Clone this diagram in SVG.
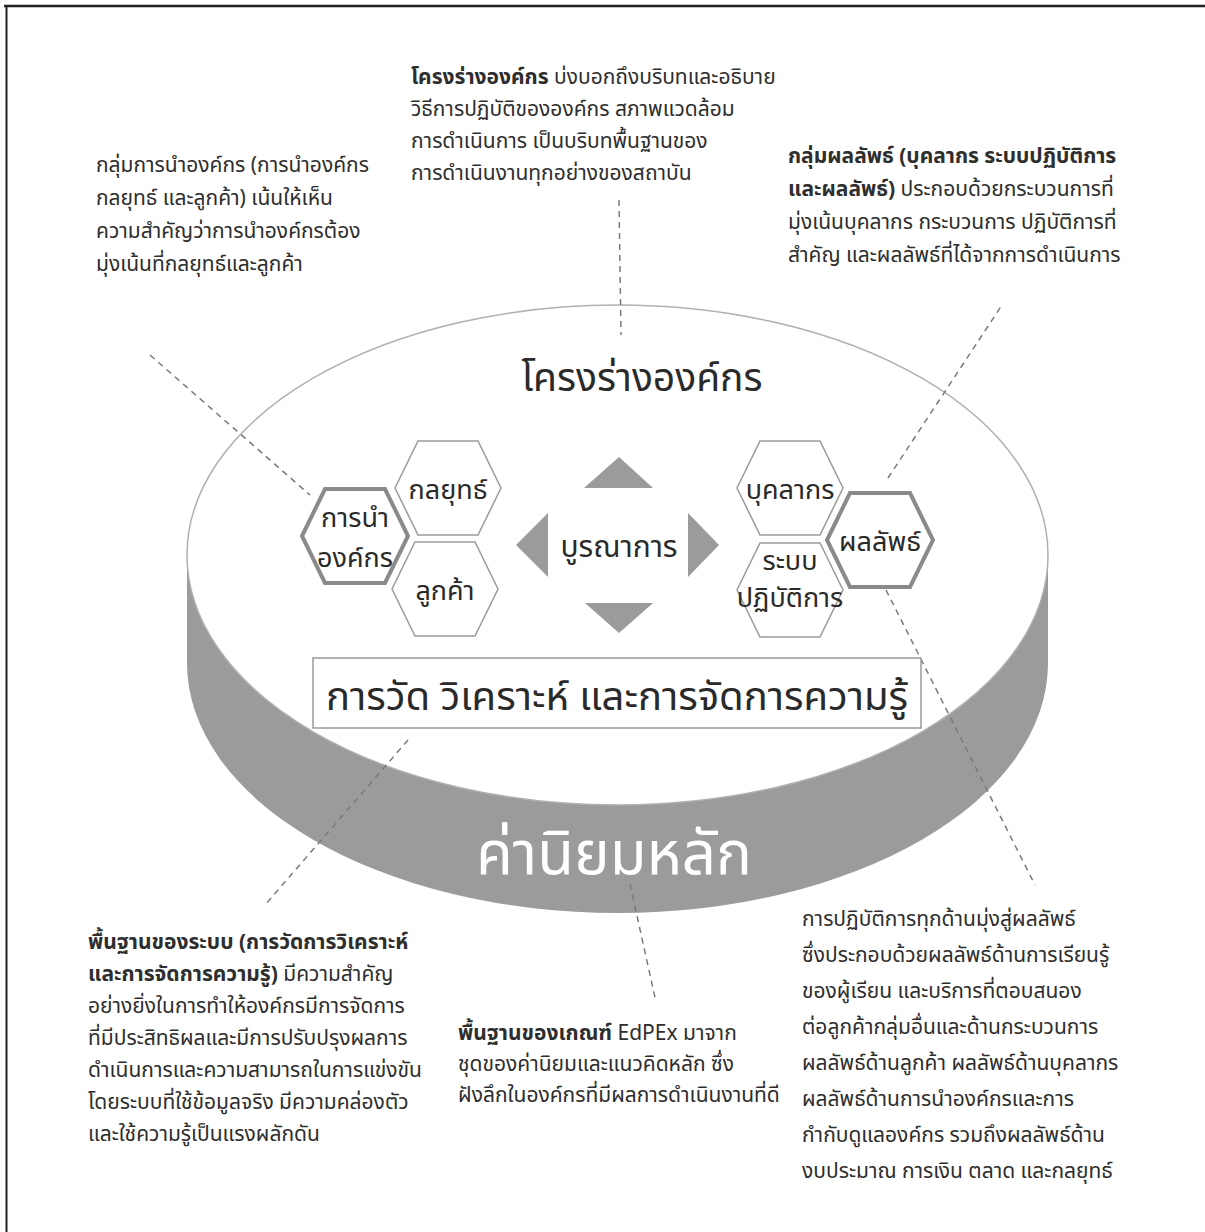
<svg xmlns="http://www.w3.org/2000/svg" width="1205" height="1232" viewBox="0 0 1205 1232">
<style>
.body{font-family:"Noto Sans Thai","Noto Sans","DejaVu Sans",sans-serif;font-size:21px;fill:#2e2e2e}
.b{font-weight:bold}
.hexthin{fill:#fff;stroke:#9a9a9a;stroke-width:1.5}
.hexthick{fill:#fff;stroke:#8a8a8a;stroke-width:4}
.hl{font-family:"Noto Sans Thai","Noto Sans","DejaVu Sans",sans-serif;font-size:27px;fill:#2a2a2a;text-anchor:middle}
.tri{fill:#9a9b9d}
.dash{fill:none;stroke:#7a7a7a;stroke-width:1.5;stroke-dasharray:6 5}
.big{font-family:"Noto Sans Thai","Noto Sans","DejaVu Sans",sans-serif;fill:#2a2a2a;text-anchor:middle}
</style>
<defs>
<polygon id="hex" points="-53,0 -30,-47 30,-47 53,0 30,47 -30,47"/>
</defs>
<rect width="1205" height="1232" fill="#fff"/>
<g id="frame">
<line x1="4" y1="6" x2="1205" y2="6" stroke="#222" stroke-width="2.5"/>
<line x1="6.5" y1="6" x2="6.5" y2="1232" stroke="#222" stroke-width="2"/>
</g>
<g id="cylinder">
<rect x="187" y="555" width="861" height="108" fill="#9a9b9d"/>
<ellipse cx="617.5" cy="663" rx="430.5" ry="250" fill="#9a9b9d"/>
<ellipse cx="617.5" cy="555" rx="430.5" ry="250" fill="#fff" stroke="#b0b0b0" stroke-width="1.5"/>
<text class="big" x="614" y="874" font-size="60" style="fill:#fff">ค่านิยมหลัก</text>
<text class="big" x="642" y="391" font-size="39">โครงร่างองค์กร</text>
</g>
<g id="connectors">
<line class="dash" x1="619" y1="200" x2="621" y2="335"/>
<line class="dash" x1="150" y1="355" x2="310" y2="495"/>
<line class="dash" x1="888" y1="478" x2="1002" y2="305"/>
<line class="dash" x1="886" y1="590" x2="1035" y2="885"/>
<line class="dash" x1="408" y1="740" x2="265" y2="905"/>
<line class="dash" x1="630" y1="884" x2="656" y2="1002"/>
</g>
<g id="n-lead">
<use href="#hex" x="355" y="536" class="hexthick"/>
<text class="hl" x="355" y="527" font-size="21">การนำ</text>
<text class="hl" x="355" y="567" font-size="21">องค์กร</text>
</g>
<g id="n-strategy">
<use href="#hex" x="448" y="488" class="hexthin"/>
<text class="hl" x="448" y="499">กลยุทธ์</text>
</g>
<g id="n-customer">
<use href="#hex" x="445" y="589" class="hexthin"/>
<text class="hl" x="445" y="600">ลูกค้า</text>
</g>
<g id="n-people">
<use href="#hex" x="790" y="488" class="hexthin"/>
<text class="hl" x="790" y="499">บุคลากร</text>
</g>
<g id="n-ops">
<use href="#hex" x="790" y="590" class="hexthin"/>
<text class="hl" x="790" y="570" font-size="19">ระบบ</text>
<text class="hl" x="790" y="607" font-size="18">ปฏิบัติการ</text>
</g>
<g id="n-results">
<use href="#hex" x="880" y="540" class="hexthick"/>
<text class="hl" x="880" y="551">ผลลัพธ์</text>
</g>
<g id="integration">
<polygon class="tri" points="584,488 653,488 619,457"/>
<polygon class="tri" points="585,603 653,603 619,633"/>
<polygon class="tri" points="548,513 548,577 516,545"/>
<polygon class="tri" points="688,513 688,577 719,545"/>
<text class="big" x="619" y="557" font-size="30">บูรณาการ</text>
</g>
<g id="n-measure">
<rect x="313" y="658" width="608" height="70" fill="#fff" stroke="#999" stroke-width="1.5"/>
<text class="big" x="617" y="710" font-size="40">การวัด วิเคราะห์ และการจัดการความรู้</text>
</g>
<g id="t-top" class="body">
<text x="411" y="84"><tspan class="b">โครงร่างองค์กร</tspan> บ่งบอกถึงบริบทและอธิบาย</text>
<text x="411" y="116">วิธีการปฏิบัติขององค์กร สภาพแวดล้อม</text>
<text x="411" y="148">การดำเนินการ เป็นบริบทพื้นฐานของ</text>
<text x="411" y="180">การดำเนินงานทุกอย่างของสถาบัน</text>
</g>
<g id="t-left" class="body">
<text x="96" y="172">กลุ่มการนำองค์กร (การนำองค์กร</text>
<text x="96" y="205">กลยุทธ์ และลูกค้า) เน้นให้เห็น</text>
<text x="96" y="238">ความสำคัญว่าการนำองค์กรต้อง</text>
<text x="96" y="271">มุ่งเน้นที่กลยุทธ์และลูกค้า</text>
</g>
<g id="t-right" class="body">
<text x="788" y="163" class="b">กลุ่มผลลัพธ์ (บุคลากร ระบบปฏิบัติการ</text>
<text x="788" y="196"><tspan class="b">และผลลัพธ์)</tspan> ประกอบด้วยกระบวนการที่</text>
<text x="788" y="229">มุ่งเน้นบุคลากร กระบวนการ ปฏิบัติการที่</text>
<text x="788" y="262">สำคัญ และผลลัพธ์ที่ได้จากการดำเนินการ</text>
</g>
<g id="t-bottom-left" class="body">
<text x="88" y="949" class="b">พื้นฐานของระบบ (การวัดการวิเคราะห์</text>
<text x="88" y="981"><tspan class="b">และการจัดการความรู้)</tspan> มีความสำคัญ</text>
<text x="88" y="1013">อย่างยิ่งในการทำให้องค์กรมีการจัดการ</text>
<text x="88" y="1045">ที่มีประสิทธิผลและมีการปรับปรุงผลการ</text>
<text x="88" y="1077">ดำเนินการและความสามารถในการแข่งขัน</text>
<text x="88" y="1109">โดยระบบที่ใช้ข้อมูลจริง มีความคล่องตัว</text>
<text x="88" y="1141">และใช้ความรู้เป็นแรงผลักดัน</text>
</g>
<g id="t-bottom-mid" class="body">
<text x="458" y="1040"><tspan class="b">พื้นฐานของเกณฑ์</tspan> EdPEx มาจาก</text>
<text x="458" y="1071">ชุดของค่านิยมและแนวคิดหลัก ซึ่ง</text>
<text x="458" y="1102">ฝังลึกในองค์กรที่มีผลการดำเนินงานที่ดี</text>
</g>
<g id="t-bottom-right" class="body">
<text x="802" y="926">การปฏิบัติการทุกด้านมุ่งสู่ผลลัพธ์</text>
<text x="802" y="962">ซึ่งประกอบด้วยผลลัพธ์ด้านการเรียนรู้</text>
<text x="802" y="998">ของผู้เรียน และบริการที่ตอบสนอง</text>
<text x="802" y="1034">ต่อลูกค้ากลุ่มอื่นและด้านกระบวนการ</text>
<text x="802" y="1070">ผลลัพธ์ด้านลูกค้า ผลลัพธ์ด้านบุคลากร</text>
<text x="802" y="1106">ผลลัพธ์ด้านการนำองค์กรและการ</text>
<text x="802" y="1142">กำกับดูแลองค์กร รวมถึงผลลัพธ์ด้าน</text>
<text x="802" y="1178">งบประมาณ การเงิน ตลาด และกลยุทธ์</text>
</g>
</svg>
